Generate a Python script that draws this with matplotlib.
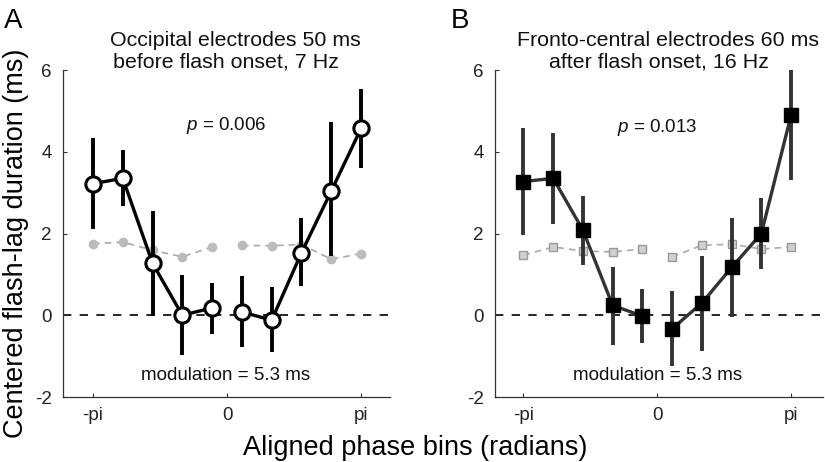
import numpy as np
import matplotlib
matplotlib.use("Agg")
import matplotlib.pyplot as plt

plt.rcParams['font.family'] = ['Liberation Sans', 'DejaVu Sans']
plt.rcParams['mathtext.fontset'] = 'custom'
plt.rcParams['mathtext.it'] = 'Liberation Sans:italic'
plt.rcParams['mathtext.rm'] = 'Liberation Sans'

# ---- data ----
phase_bins = np.linspace(-np.pi, np.pi, 10)
xtick_pos = [-np.pi, 0, np.pi]
xtick_labels = ['-pi', '0', 'pi']
ytick_pos = [-2, 0, 2, 4, 6]

a_mean = [3.22, 3.35, 1.27, 0.00, 0.18, 0.08, -0.12, 1.53, 3.04, 4.57]
a_upper = [4.33, 4.04, 2.55, 0.98, 0.79, 0.95, 0.69, 2.37, 4.72, 5.53]
a_lower = [2.10, 2.67, -0.02, -0.98, -0.45, -0.78, -0.90, 0.71, 1.44, 3.60]
a_surr = [1.75, 1.79, 1.59, 1.43, 1.67, 1.71, 1.70, 1.73, 1.37, 1.51]

b_mean = [3.27, 3.35, 2.08, 0.24, -0.02, -0.33, 0.30, 1.17, 2.00, 4.90]
b_upper = [4.57, 4.46, 2.92, 1.17, 0.64, 0.59, 1.44, 2.38, 2.87, 6.00]
b_lower = [1.97, 2.23, 1.24, -0.72, -0.69, -1.25, -0.87, -0.04, 1.12, 3.30]
b_surr = [1.47, 1.67, 1.57, 1.55, 1.62, 1.43, 1.71, 1.74, 1.62, 1.67]

W, H = 825, 462
fig = plt.figure(figsize=(W / 100, H / 100), dpi=100)


def fx(px):
    return px / W


def fy(py):
    return 1 - py / H


def make_ax(left_px, right_px, xlim):
    ax = fig.add_axes([fx(left_px), fy(397), (right_px - left_px) / W, (397 - 70) / H])
    ax.set_xlim(*xlim)
    ax.set_ylim(-2, 6)
    for s in ['top', 'right']:
        ax.spines[s].set_visible(False)
    for s in ['left', 'bottom']:
        ax.spines[s].set_color('#333333')
        ax.spines[s].set_linewidth(0.9)
    ax.set_xticks(xtick_pos)
    ax.set_xticklabels(xtick_labels)
    ax.set_yticks(ytick_pos)
    ax.set_yticklabels([str(v) for v in ytick_pos])
    ax.tick_params(direction='in', length=3, width=0.8, color='#333333',
                   labelsize=13.5, labelcolor='#222222')
    ax.tick_params(axis='y', pad=8)
    ax.tick_params(axis='x', pad=7)
    ax.axhline(0, color='black', lw=1.2, ls=(0, (5, 5)), zorder=1)
    return ax


def draw_halves(ax, x, y, **kw):
    ax.plot(x[:5], y[:5], **kw)
    ax.plot(x[5:], y[5:], **kw)


# ---- Panel A ----
axA = make_ax(63, 390, (-3.845, 3.82))
draw_halves(axA, phase_bins, a_surr, color='#aaaaaa', lw=1.2, ls=(0, (4, 3)),
            marker='o', ms=6, mfc='#bbbbbb', mec='#bbbbbb', zorder=2)
axA.vlines(phase_bins, a_lower, a_upper, color='black', lw=2.8, zorder=3)
draw_halves(axA, phase_bins, a_mean, color='black', lw=2.4, marker='o', ms=11,
            mfc='white', mec='black', mew=2.2, zorder=4)

# ---- Panel B ----
dark = '#333333'
axB = make_ax(495, 823, (-3.81, 3.89))
draw_halves(axB, phase_bins, b_surr, color='#aaaaaa', lw=1.2, ls=(0, (4, 3)),
            marker='s', ms=5.5, mfc='#d0d0d0', mec='#999999', mew=1.0, zorder=2)
axB.vlines(phase_bins, b_lower, b_upper, color=dark, lw=2.8, zorder=3)
draw_halves(axB, phase_bins, b_mean, color=dark, lw=2.4, marker='s', ms=10.5,
            mfc='black', mec='black', zorder=4)

# ---- texts ----
tkw = dict(ha='center', va='center', fontsize=15.4, color='#111111')
fig.text(fx(235.5), fy(41), 'Occipital electrodes 50 ms', **tkw)
fig.text(fx(226), fy(62), 'before flash onset, 7 Hz', **tkw)
fig.text(fx(668), fy(41), 'Fronto-central electrodes 60 ms', **tkw)
fig.text(fx(659), fy(62), 'after flash onset, 16 Hz', **tkw)

pkw = dict(ha='center', va='center', fontsize=13.5, color='#111111')
fig.text(fx(226), fy(126), r'$p$ = 0.006', **pkw)
fig.text(fx(657), fy(127), r'$p$ = 0.013', **pkw)
fig.text(fx(226), fy(376), 'modulation = 5.3 ms', **pkw)
fig.text(fx(658), fy(376), 'modulation = 5.3 ms', **pkw)

fig.text(fx(13), fy(21), 'A', ha='center', va='center', fontsize=20)
fig.text(fx(460), fy(21), 'B', ha='center', va='center', fontsize=20)

fig.text(fx(16), fy(243), 'Centered flash-lag duration (ms)', rotation=90,
         ha='center', va='center', fontsize=19.5)
fig.text(fx(415), fy(448), 'Aligned phase bins (radians)', ha='center',
         va='center', fontsize=19.5)

fig.savefig('out.png', dpi=100)
